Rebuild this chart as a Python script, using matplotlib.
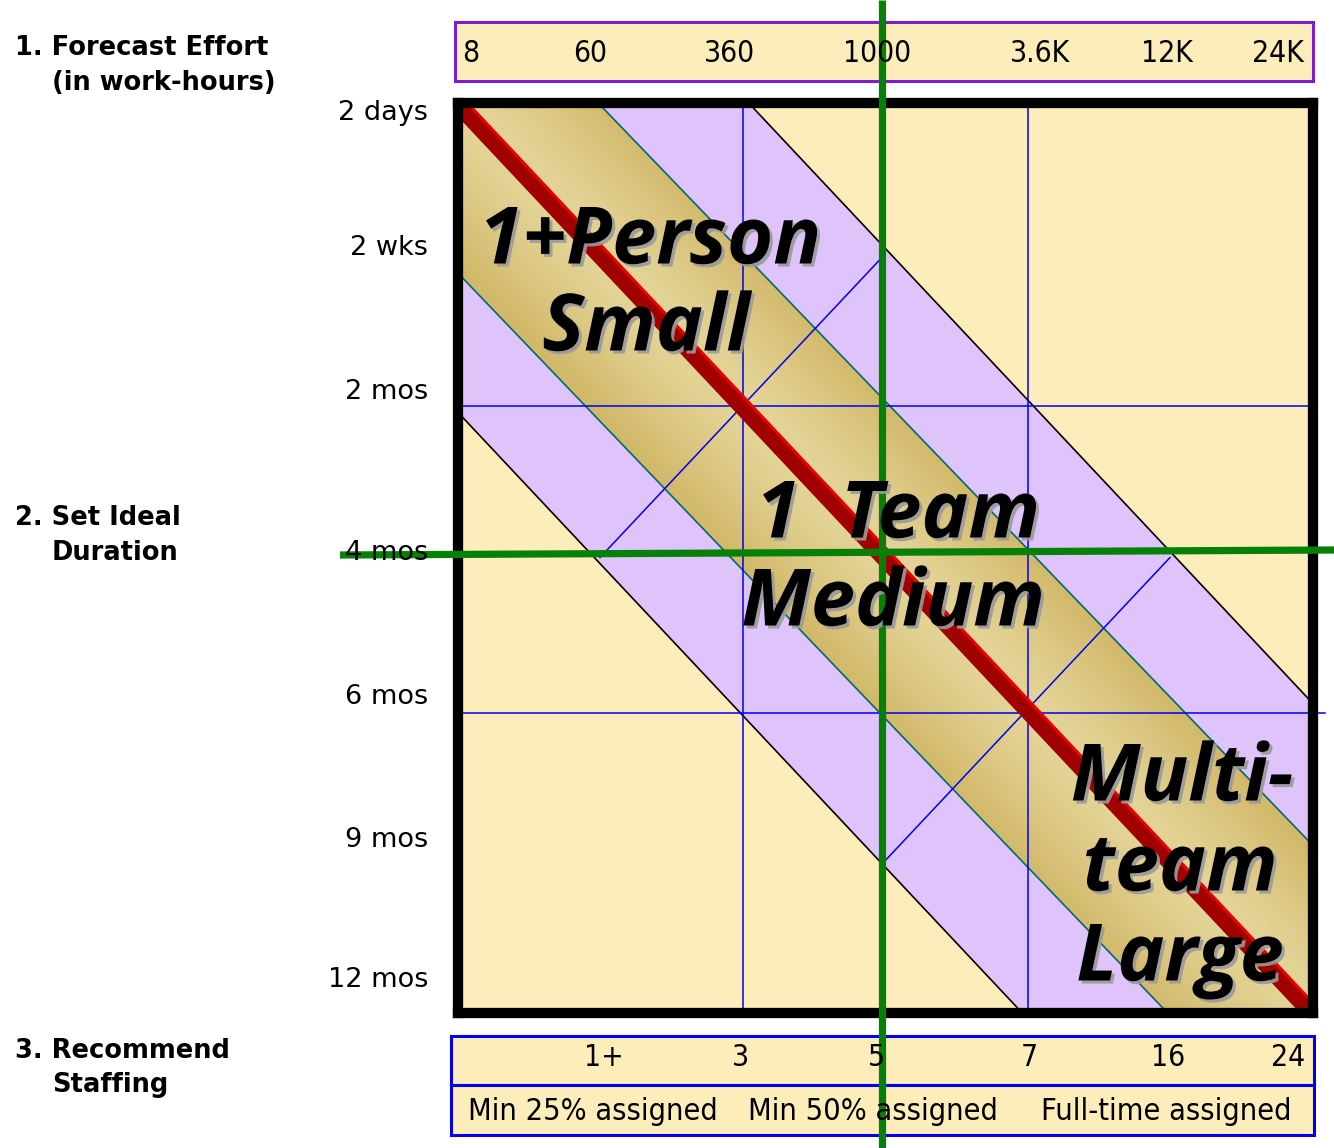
import numpy as np
import matplotlib
matplotlib.use("Agg")
import matplotlib.pyplot as plt
import matplotlib.patheffects as pe
import matplotlib.transforms as mtransforms
from matplotlib.patches import Polygon, Rectangle

# ---- chart content ----
effort_labels = ["8", "60", "360", "1000", "3.6K", "12K", "24K"]
duration_labels = ["2 days", "2 wks", "2 mos", "4 mos", "6 mos", "9 mos", "12 mos"]
staff_labels = ["1+", "3", "5", "7", "16", "24"]
assign_labels = ["Min 25% assigned", "Min 50% assigned", "Full-time assigned"]
step_titles = [("1. Forecast Effort", "(in work-hours)"),
               ("2. Set Ideal", "Duration"),
               ("3. Recommend", "Staffing")]
zone_labels = [["1+Person", "Small"], ["1  Team", "Medium"], ["Multi-", "team", "Large"]]

# ---- layout (pixels) ----
W, H = 1334, 1148
EFFORT_X = [462, 590, 730, 877, 1040, 1167, 1278]
DURATION_Y = [113, 248, 392, 553, 697, 840, 980]
STAFF_X = [604, 741, 877, 1029, 1168, 1288]
ASSIGN_X = [593, 873, 1166]
TITLE_Y = [(48, 83), (518, 553), (1051, 1085)]
ZONE_POS = [[(650, 243), (646, 330)],
            [(898, 517), (893, 605)],
            [(1182, 780), (1180, 870), (1180, 960)]]

CREAM = "#fdedbb"
LAVENDER = "#dfc4fc"
GOLD_DARK = np.array([210, 185, 106]) / 255
GOLD_LIGHT = np.array([234, 222, 168]) / 255
GREEN = "#078007"
BLUE = "#0000ee"

# gold band edges (where each edge meets the frame), lavender band half width
GOLD_UPPER = [(0.164, 0.0), (1.0, 0.816)]
GOLD_LOWER = [(0.0, 0.187), (0.83, 1.0)]
PURPLE_W = 0.34

NARROW = dict(family="DejaVu Sans", stretch="condensed")

fig = plt.figure(figsize=(W / 100, H / 100), dpi=100)

# ---- main diagram ----
ax = fig.add_axes([457.5 / W, 1 - 1012.5 / H, 855 / W, 910 / H])
ax.set_xlim(0, 1)
ax.set_ylim(1, 0)
ax.set_xticks([])
ax.set_yticks([])
ax.set_facecolor(CREAM)
for s in ax.spines.values():
    s.set_linewidth(7.4)
    s.set_color("black")
    s.set_zorder(5)

purple = [(0, 0), (PURPLE_W, 0), (1, 1 - PURPLE_W), (1, 1), (1 - PURPLE_W, 1), (0, PURPLE_W)]
ax.add_patch(Polygon(purple, closed=True, facecolor=LAVENDER, edgecolor="none", zorder=0.5))

# gold band with gradient across its width
gold_pts = [(0, 0), GOLD_UPPER[0], GOLD_UPPER[1], (1, 1), GOLD_LOWER[1], GOLD_LOWER[0]]
uu, vv = np.meshgrid(np.linspace(0, 1, 500), np.linspace(0, 1, 500))
t = np.clip(np.abs(uu - vv) / 0.175, 0, 1)
t = 0.25 + 0.75 * t ** 1.3
img = GOLD_LIGHT[None, None, :] + (GOLD_DARK - GOLD_LIGHT)[None, None, :] * t[..., None]
gold = Polygon(gold_pts, closed=True, facecolor="none", edgecolor="none")
ax.add_patch(gold)
im = ax.imshow(img, extent=[0, 1, 1, 0], aspect="auto", zorder=1, interpolation="bilinear")
im.set_clip_path(gold)

for edge in (GOLD_UPPER, GOLD_LOWER):
    (x0, y0), (x1, y1) = edge
    ax.plot([x0, x1], [y0, y1], color="#006a6a", lw=1.2, zorder=2)
ax.plot([PURPLE_W, 1], [0, 1 - PURPLE_W], color="black", lw=1.2, zorder=2)
ax.plot([0, 1 - PURPLE_W], [PURPLE_W, 1], color="black", lw=1.2, zorder=2)

# thirds grid and the cross lines through the band
for k in (1 / 3, 2 / 3):
    ax.plot([k, k], [0, 1], color=BLUE, lw=1.1, zorder=2.2)
ax.plot([0, 1], [1 / 3, 1 / 3], color=BLUE, lw=1.1, zorder=2.2)
ax.plot([0, 1.015], [0.671, 0.671], color=BLUE, lw=1.1, zorder=2.2, clip_on=False)
ax.plot([1 / 6, 1 / 2], [1 / 2, 1 / 6], color=BLUE, lw=1.1, zorder=2.2)
ax.plot([1 / 2, 5 / 6], [5 / 6, 1 / 2], color=BLUE, lw=1.1, zorder=2.2)

# red ideal line
ax.plot([0, 1], [0, 1], color="#e80000", lw=12, zorder=3, solid_capstyle="butt")
shift = mtransforms.offset_copy(ax.transData, fig=fig, x=-1.5, y=-1.5, units="dots")
ax.plot([0, 1], [0, 1], color="#a00000", lw=10.5, zorder=3.1, transform=shift,
        solid_capstyle="butt")

# ---- overlay in pixel coords ----
cv = fig.add_axes([0, 0, 1, 1], zorder=10)
cv.set_xlim(0, W)
cv.set_ylim(H, 0)
cv.axis("off")
cv.patch.set_alpha(0)

# effort bar
cv.add_patch(Rectangle((455, 22), 858, 59, facecolor=CREAM, edgecolor="#7a1ecf", lw=2.2))
for i, lab in enumerate(effort_labels):
    cv.text(EFFORT_X[i], 53, lab, ha="left" if i == 0 else "center", va="center",
            fontsize=21.5, **NARROW)

# staffing bars
cv.add_patch(Rectangle((451, 1036), 863, 49, facecolor=CREAM, edgecolor=BLUE, lw=2.2))
cv.add_patch(Rectangle((451, 1085), 863, 50, facecolor=CREAM, edgecolor=BLUE, lw=2.2))
for x, lab in zip(STAFF_X, staff_labels):
    cv.text(x, 1058, lab, ha="center", va="center", fontsize=21.5, **NARROW)
for x, lab in zip(ASSIGN_X, assign_labels):
    cv.text(x, 1112, lab, ha="center", va="center", fontsize=22, **NARROW)

# duration labels
for y, lab in zip(DURATION_Y, duration_labels):
    cv.text(428, y, lab, ha="right", va="center", fontsize=19.5, family="DejaVu Sans")

# step titles
for (y1, y2), (a, b) in zip(TITLE_Y, step_titles):
    cv.text(15, y1, a, ha="left", va="center", fontsize=18.5, fontweight="bold")
    cv.text(52, y2, b, ha="left", va="center", fontsize=18.5, fontweight="bold")

# zone names
shadow = [pe.SimplePatchShadow(offset=(2.2, -2.2), shadow_rgbFace="#9a9a9a", alpha=0.9),
          pe.Normal()]
for lines, pos in zip(zone_labels, ZONE_POS):
    for lab, (x, y) in zip(lines, pos):
        cv.text(x, y, lab, ha="center", va="center", fontsize=57, fontweight="bold",
                style="italic", family=["Open Sans", "DejaVu Sans"],
                path_effects=shadow)

# green guide lines
cv.plot([882, 882], [0, H], color=GREEN, lw=5.2, solid_capstyle="butt")
cv.plot([340, W], [555, 550], color=GREEN, lw=5.2, solid_capstyle="butt")

fig.savefig("out.png", dpi=100)
